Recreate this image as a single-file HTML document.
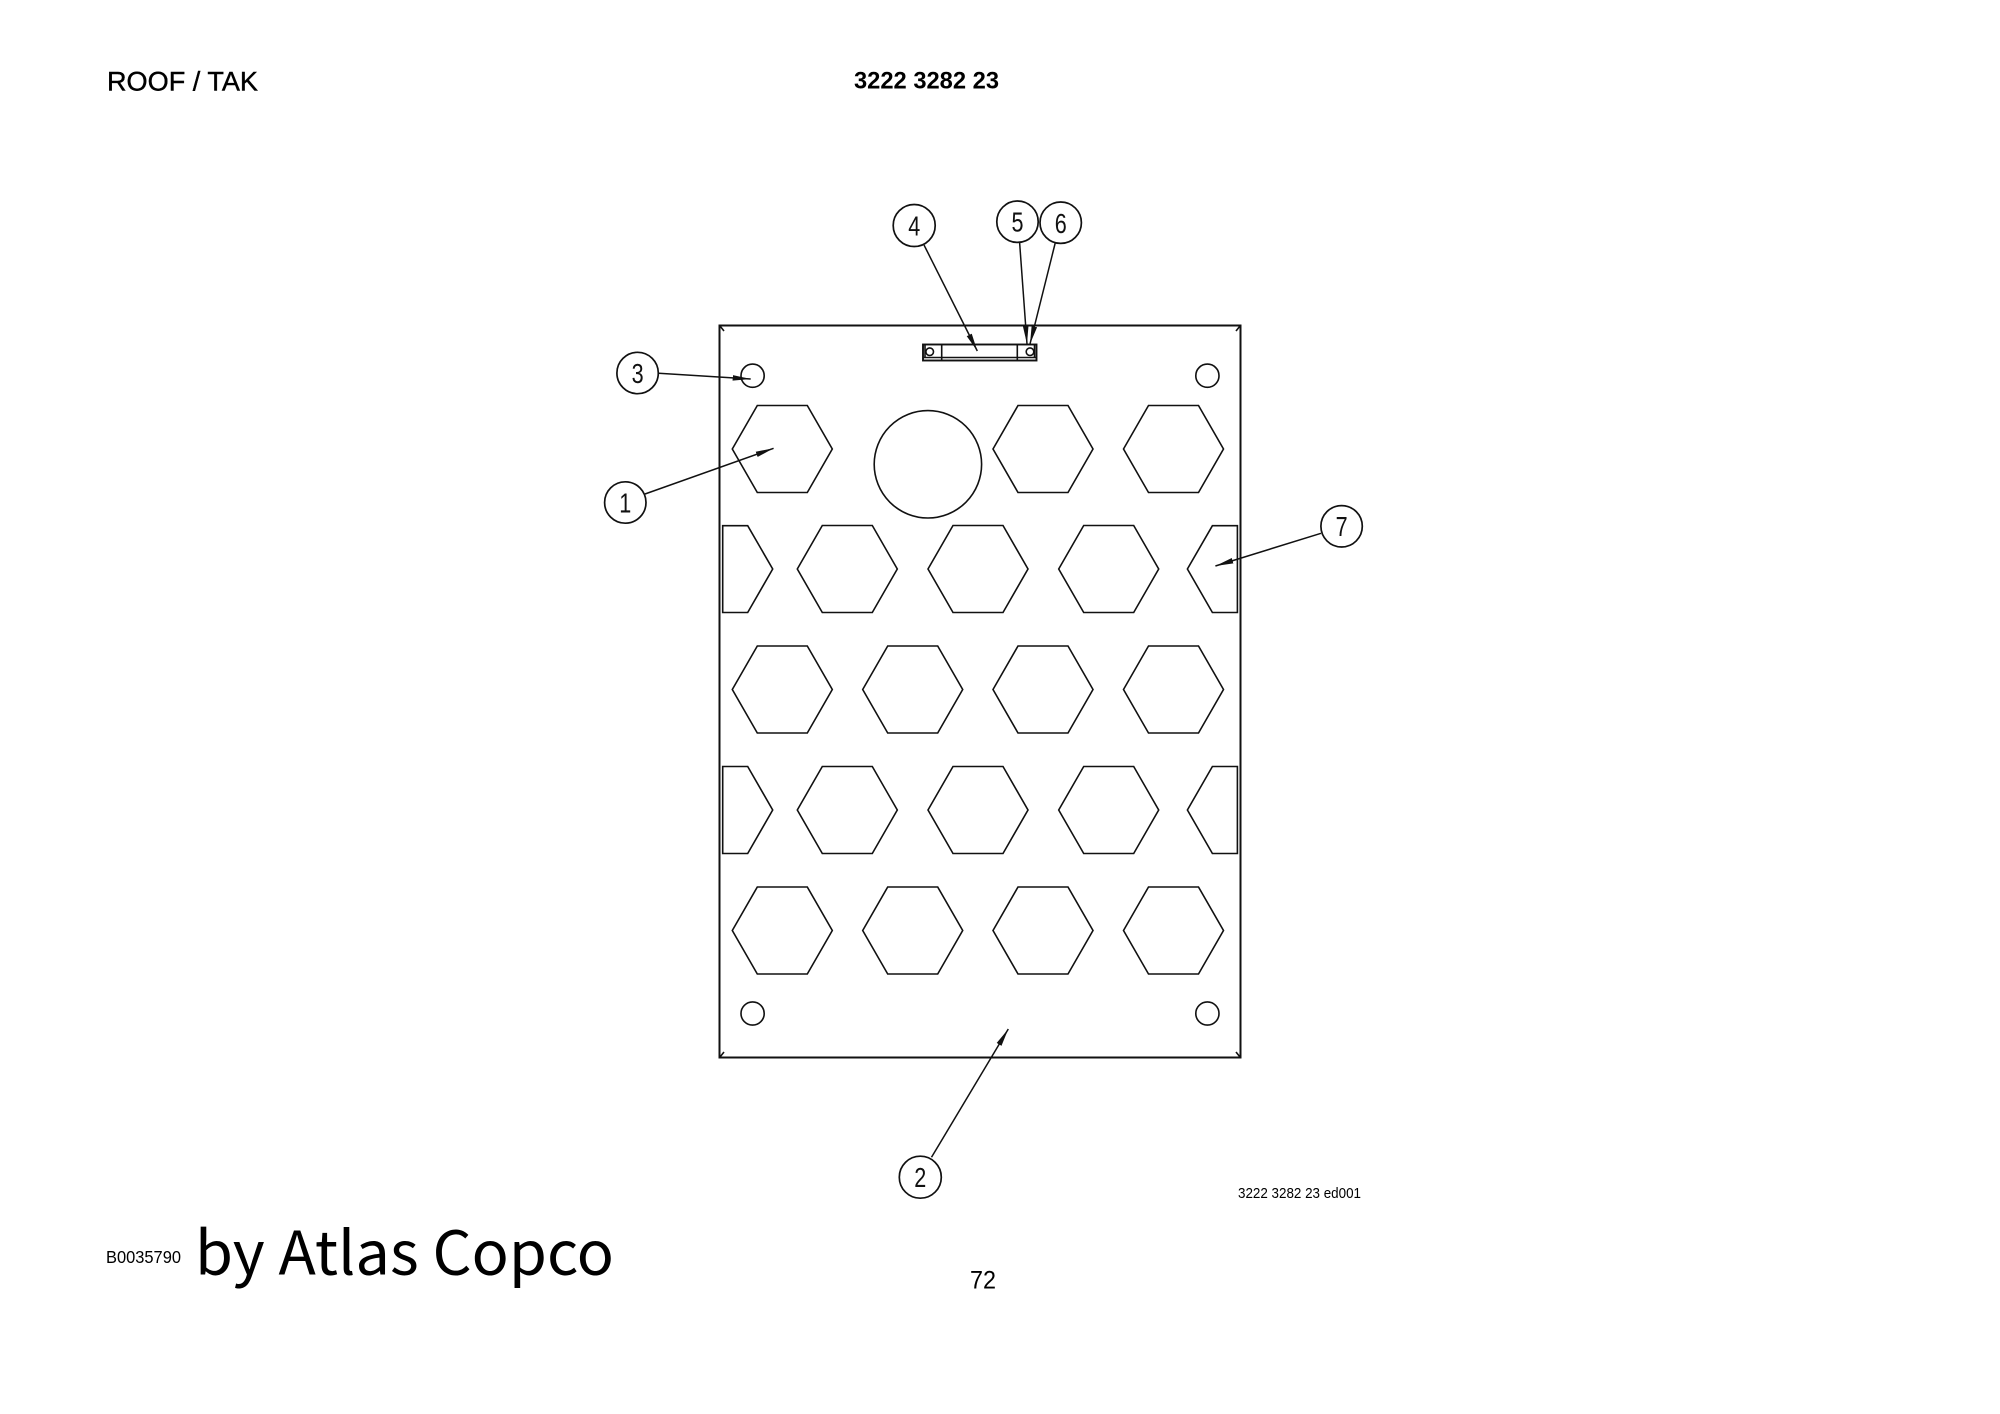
<!DOCTYPE html>
<html>
<head>
<meta charset="utf-8">
<style>
html,body{margin:0;padding:0;background:#fff;width:2000px;height:1414px;overflow:hidden}
svg{display:block}
text{fill:#000}
.s{font-family:"Liberation Sans",sans-serif}
.n{font-family:"Liberation Sans",sans-serif;font-size:28px;fill:#111}
.l{stroke:#111;stroke-width:1.6;fill:none}
.b{stroke:#111;stroke-width:1.7;fill:#fff}
.a{stroke:#111;stroke-width:1.5;fill:none;marker-end:url(#ah)}
</style>
</head>
<body>
<svg width="2000" height="1414" viewBox="0 0 2000 1414" xmlns="http://www.w3.org/2000/svg">
<defs>
<polygon id="h" points="-50,0 -25,-43.5 25,-43.5 50,0 25,43.5 -25,43.5" class="l"/>
<marker id="ah" markerUnits="userSpaceOnUse" markerWidth="20" markerHeight="8" refX="18" refY="4" orient="auto">
<path d="M0,1.2 L18,4 L0,6.8 Z" fill="#111"/>
</marker>
</defs>

<text class="s" x="107" y="90.5" font-size="27" stroke="#000" stroke-width="0.4" textLength="151" lengthAdjust="spacingAndGlyphs">ROOF / TAK</text>
<text class="s" x="854" y="88.5" font-size="24" font-weight="700" textLength="145" lengthAdjust="spacingAndGlyphs">3222 3282 23</text>

<rect x="719.5" y="325.5" width="521" height="732" fill="none" stroke="#111" stroke-width="2"/>
<path class="l" d="M720,326 l4,5 M1240,326 l-4,5 M720,1057 l4,-5 M1240,1057 l-4,-5"/>

<circle class="l" cx="752.6" cy="375.7" r="11.6"/>
<circle class="l" cx="1207.4" cy="375.7" r="11.6"/>
<circle class="l" cx="752.6" cy="1013.5" r="11.6"/>
<circle class="l" cx="1207.4" cy="1013.5" r="11.6"/>
<circle class="l" cx="927.9" cy="464.3" r="53.7"/>

<use href="#h" x="782.3" y="449"/>
<use href="#h" x="1043" y="449"/>
<use href="#h" x="1173.5" y="449"/>

<polygon class="l" points="722.7,525.7 747.7,525.7 772.7,569 747.7,612.5 722.7,612.5"/>
<use href="#h" x="847.3" y="569"/>
<use href="#h" x="978" y="569"/>
<use href="#h" x="1108.7" y="569"/>
<polygon class="l" points="1237.4,525.7 1212.4,525.7 1187.4,569 1212.4,612.5 1237.4,612.5"/>

<use href="#h" x="782.3" y="689.5"/>
<use href="#h" x="912.7" y="689.5"/>
<use href="#h" x="1043" y="689.5"/>
<use href="#h" x="1173.5" y="689.5"/>

<polygon class="l" points="722.7,766.5 747.7,766.5 772.7,810 747.7,853.5 722.7,853.5"/>
<use href="#h" x="847.3" y="810"/>
<use href="#h" x="978" y="810"/>
<use href="#h" x="1108.7" y="810"/>
<polygon class="l" points="1237.4,766.5 1212.4,766.5 1187.4,810 1212.4,853.5 1237.4,853.5"/>

<use href="#h" x="782.3" y="930.5"/>
<use href="#h" x="912.7" y="930.5"/>
<use href="#h" x="1043" y="930.5"/>
<use href="#h" x="1173.5" y="930.5"/>

<rect x="923" y="344.5" width="113.5" height="16" fill="none" stroke="#111" stroke-width="1.9"/>
<path class="l" d="M923,357.5 H1036.5 M941.7,344.5 V360.5 M1017.3,344.5 V360.5 M925,344.5 V357.5 M1034.5,344.5 V357.5"/>
<circle class="l" cx="929.7" cy="351.7" r="3.8"/>
<circle class="l" cx="1030" cy="351.7" r="3.8"/>

<line class="a" x1="924" y1="245" x2="977.3" y2="351"/>
<line class="a" x1="1019.5" y1="241" x2="1027" y2="344"/>
<line class="a" x1="1055.3" y1="242.7" x2="1030" y2="344"/>
<line class="a" x1="658.7" y1="373.3" x2="750.7" y2="379"/>
<line class="a" x1="645" y1="494" x2="773.6" y2="448.3"/>
<line class="a" x1="1321" y1="533.3" x2="1215.4" y2="566"/>
<line class="a" x1="931.5" y1="1157.3" x2="1008.3" y2="1029"/>

<circle class="b" cx="914.2" cy="225.5" r="21"/>
<circle class="b" cx="1017.5" cy="221.7" r="20.7"/>
<circle class="b" cx="1060.7" cy="222.7" r="20.7"/>
<circle class="b" cx="637.6" cy="373" r="20.7"/>
<circle class="b" cx="625.3" cy="502.5" r="20.7"/>
<circle class="b" cx="1341.6" cy="526.3" r="20.7"/>
<circle class="b" cx="920.3" cy="1177.2" r="21"/>

<text class="n" x="908.2" y="235.5" textLength="12" lengthAdjust="spacingAndGlyphs">4</text>
<text class="n" x="1011.5" y="231.5" textLength="12" lengthAdjust="spacingAndGlyphs">5</text>
<text class="n" x="1054.7" y="233" textLength="12" lengthAdjust="spacingAndGlyphs">6</text>
<text class="n" x="631.6" y="383" textLength="12" lengthAdjust="spacingAndGlyphs">3</text>
<text class="n" x="619.3" y="512.5" textLength="12" lengthAdjust="spacingAndGlyphs">1</text>
<text class="n" x="1335.6" y="536" textLength="12" lengthAdjust="spacingAndGlyphs">7</text>
<text class="n" x="914.3" y="1187" textLength="12" lengthAdjust="spacingAndGlyphs">2</text>

<text class="s" x="1238" y="1198" font-size="15" textLength="123" lengthAdjust="spacingAndGlyphs">3222 3282 23 ed001</text>
<text class="s" x="106" y="1263" font-size="17.5" textLength="75" lengthAdjust="spacingAndGlyphs">B0035790</text>
<text x="195" y="1274.5" font-family="'Noto Sans CJK SC','Liberation Sans',sans-serif" font-size="60" textLength="419" lengthAdjust="spacingAndGlyphs">by Atlas Copco</text>
<text class="s" x="970" y="1288.5" font-size="25" textLength="26" lengthAdjust="spacingAndGlyphs">72</text>
</svg>
</body>
</html>
